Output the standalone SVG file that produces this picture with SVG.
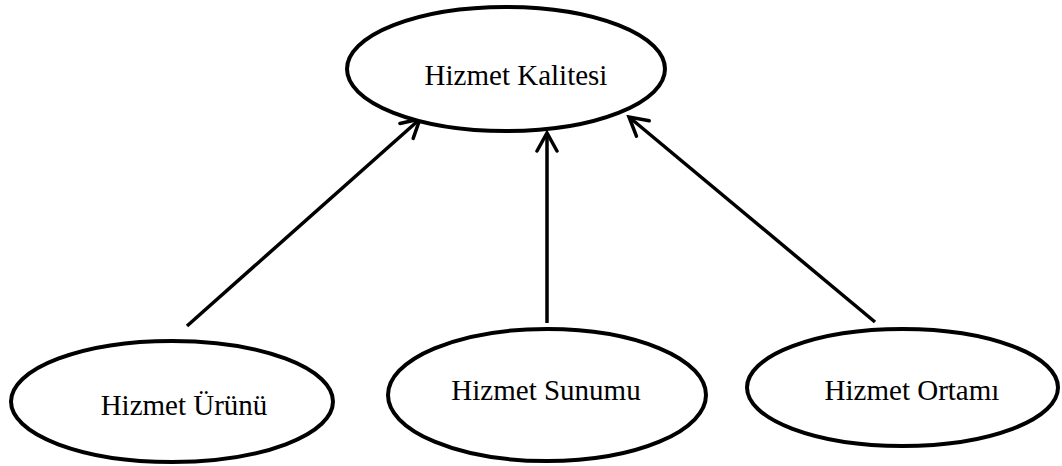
<svg xmlns="http://www.w3.org/2000/svg" width="1062" height="466" viewBox="0 0 1062 466">
  <style>
    .node ellipse { fill: #ffffff; stroke: #000000; stroke-width: 4; }
    .node text { font-family: "Liberation Serif", "Times New Roman", serif; font-size: 29px; fill: #000000; text-anchor: middle; }
    .edge { stroke: #000000; stroke-width: 3.5; fill: none; marker-end: url(#arrow); }
  </style>
  <defs>
    <!-- open V arrowhead, sized in user units -->
    <marker id="arrow" viewBox="0 0 24 24" refX="21" refY="12" markerWidth="24" markerHeight="24" orient="auto" markerUnits="userSpaceOnUse">
      <path d="M3,2 L21,12 L3,22" fill="none" stroke="#000000" stroke-width="3.5" stroke-linecap="round" stroke-linejoin="miter"/>
    </marker>
  </defs>

  <rect width="1062" height="466" fill="#ffffff"/>

  <!-- connectors -->
  <g id="connectors">
    <line class="edge" x1="187" y1="326" x2="420" y2="119"/>
    <line class="edge" x1="547" y1="323" x2="547" y2="133"/>
    <line class="edge" x1="875" y1="322" x2="629" y2="117"/>
  </g>

  <!-- nodes -->
  <g id="hizmet-kalitesi" class="node">
    <ellipse cx="506" cy="69" rx="159" ry="62"/>
    <text x="516" y="85">Hizmet Kalitesi</text>
  </g>
  <g id="hizmet-urunu" class="node">
    <ellipse cx="172" cy="401.5" rx="161" ry="60.5"/>
    <text x="184" y="415">Hizmet Ürünü</text>
  </g>
  <g id="hizmet-sunumu" class="node">
    <ellipse cx="547" cy="395" rx="159" ry="66"/>
    <text x="546" y="400">Hizmet Sunumu</text>
  </g>
  <g id="hizmet-ortami" class="node">
    <ellipse cx="902.5" cy="387.5" rx="155.5" ry="58.5"/>
    <text x="912" y="400">Hizmet Ortamı</text>
  </g>
</svg>
